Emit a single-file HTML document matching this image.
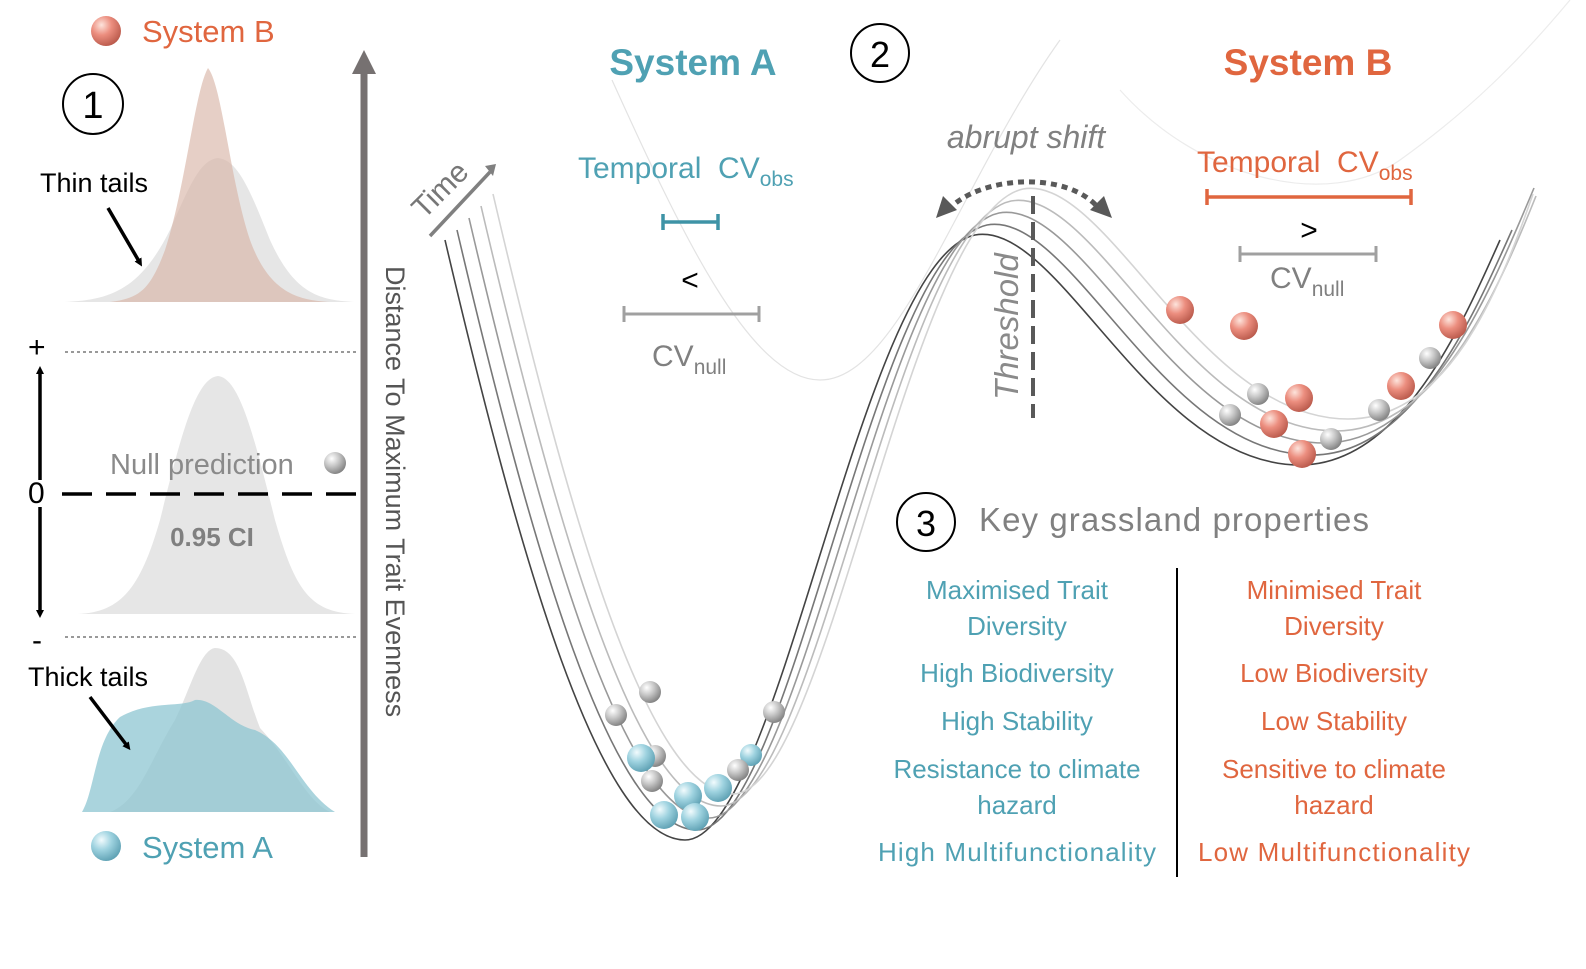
<!DOCTYPE html>
<html><head><meta charset="utf-8"><style>
html,body{margin:0;padding:0;background:#fff;}
svg{display:block;font-family:"Liberation Sans",sans-serif;}
</style></head><body>
<svg width="1586" height="969" viewBox="0 0 1586 969" xmlns="http://www.w3.org/2000/svg">
<defs>
<radialGradient id="gB" cx="0.35" cy="0.3" r="0.75"><stop offset="0" stop-color="#fde4dc"/><stop offset="0.45" stop-color="#ec8e7f"/><stop offset="1" stop-color="#b8584a"/></radialGradient>
<radialGradient id="gA" cx="0.35" cy="0.3" r="0.75"><stop offset="0" stop-color="#f2fbfd"/><stop offset="0.45" stop-color="#9fd3e0"/><stop offset="1" stop-color="#5c9fb2"/></radialGradient>
<radialGradient id="gN" cx="0.35" cy="0.3" r="0.75"><stop offset="0" stop-color="#ffffff"/><stop offset="0.45" stop-color="#c8c8c8"/><stop offset="1" stop-color="#7e7e7e"/></radialGradient>
<marker id="ah" markerWidth="8" markerHeight="8" refX="4" refY="4" orient="auto" markerUnits="userSpaceOnUse"><path d="M0,0 L8,4 L0,8z" fill="#000"/></marker>
</defs>

<!-- Left panel -->
<circle cx="106" cy="31" r="15" fill="url(#gB)"/>
<text x="142" y="42" font-size="31" fill="#e0663f">System B</text>
<circle cx="93" cy="104" r="30" fill="none" stroke="#000" stroke-width="2"/>
<text x="93" y="118" font-size="38" text-anchor="middle">1</text>

<path d="M65,302 C110,300 140,290 170,230 C190,185 200,160 218,158 C238,160 250,190 270,240 C295,295 320,300 355,302Z" fill="#e6e6e6"/>
<path d="M110,302 C140,298 150,290 165,250 C185,190 195,90 208,68 C222,85 230,180 250,240 C270,295 300,300 330,302Z" fill="#d9b5a8" opacity="0.65"/>
<text x="40" y="192" font-size="27">Thin tails</text>
<line x1="108" y1="208" x2="140" y2="263" stroke="#000" stroke-width="3.5" marker-end="url(#ah)"/>

<text x="28" y="357" font-size="30">+</text>
<line x1="40" y1="480" x2="40" y2="370" stroke="#000" stroke-width="3.5" marker-end="url(#ah)"/>
<line x1="65" y1="352" x2="358" y2="352" stroke="#333" stroke-width="1" stroke-dasharray="3,3"/>
<path d="M78,614 C120,612 140,590 160,520 C180,440 195,378 218,376 C240,378 255,440 275,520 C295,590 310,612 355,614Z" fill="#e6e6e6"/>
<text x="110" y="474" font-size="29" fill="#8a8a8a">Null prediction</text>
<circle cx="335" cy="463" r="11" fill="url(#gN)"/>
<text x="28" y="503" font-size="30">0</text>
<line x1="62" y1="494" x2="358" y2="494" stroke="#000" stroke-width="3.5" stroke-dasharray="30,14"/>
<text x="212" y="546" font-size="26" font-weight="bold" fill="#808080" text-anchor="middle">0.95 CI</text>
<line x1="40" y1="507" x2="40" y2="614" stroke="#000" stroke-width="3.5" marker-end="url(#ah)"/>
<text x="32" y="650" font-size="30">-</text>
<line x1="65" y1="637" x2="358" y2="637" stroke="#333" stroke-width="1" stroke-dasharray="3,3"/>

<path d="M110,812 C140,800 150,760 175,720 C190,690 200,650 215,648 C240,648 245,690 260,728 C290,760 305,800 330,812Z" fill="#e3e3e3"/>
<path d="M82,812 C95,790 95,740 120,717 C150,700 180,708 195,700 C215,698 230,725 255,730 C290,745 300,790 335,812Z" fill="#8ec6d2" opacity="0.75"/>
<text x="28" y="686" font-size="27">Thick tails</text>
<line x1="90" y1="697" x2="128" y2="747" stroke="#000" stroke-width="3.5" marker-end="url(#ah)"/>
<circle cx="106" cy="846" r="15" fill="url(#gA)"/>
<text x="142" y="858" font-size="31" fill="#4fa1b3">System A</text>

<line x1="364" y1="72" x2="364" y2="857" stroke="#767171" stroke-width="7"/>
<path d="M352,74 L364,50 L376,74Z" fill="#767171"/>
<text transform="translate(386,266) rotate(90)" font-size="27" fill="#555">Distance To Maximum Trait Evenness</text>

<!-- faint background curves -->
<path d="M612,80 C680,230 750,380 820,380 C900,380 960,180 1060,40" fill="none" stroke="#e3e3e3" stroke-width="1.2"/>
<path d="M1120,90 C1200,180 1330,210 1400,160 C1470,110 1520,60 1570,0" fill="none" stroke="#ececec" stroke-width="1.2"/>

<g fill="none" stroke-width="1.6">
<path d="M445,240 C520,560 600,840 685,840 C780,840 860,260 975,235 C1060,220 1150,465 1300,465 C1400,465 1460,330 1500,240" stroke="#444"/>
<path transform="translate(12,-10)" d="M445,240 C520,560 600,840 685,840 C780,840 860,260 975,235 C1060,220 1150,465 1300,465 C1400,465 1460,330 1500,240" stroke="#777"/>
<path transform="translate(24,-22)" d="M445,240 C520,560 600,840 685,840 C780,840 860,260 975,235 C1060,220 1150,465 1300,465 C1400,465 1460,330 1510,210" stroke="#999"/>
<path transform="translate(36,-34)" d="M445,240 C520,560 600,840 685,840 C780,840 860,260 975,235 C1060,220 1150,465 1300,465 C1400,465 1460,330 1500,230" stroke="#bbb"/>
<path transform="translate(48,-46)" d="M445,240 C520,560 600,840 685,840 C780,840 860,260 975,235 C1060,220 1150,465 1300,465 C1400,465 1450,340 1485,240" stroke="#d4d4d4"/>
</g>

<line x1="430" y1="236" x2="490" y2="172" stroke="#808080" stroke-width="3.5"/>
<path d="M485,166 L496,164 L493,176Z" fill="#808080"/>
<text transform="translate(424,220) rotate(-45)" font-size="30" fill="#777">Time</text>

<text x="693" y="75" font-size="37" font-weight="bold" fill="#4fa1b3" text-anchor="middle">System A</text>
<circle cx="880" cy="53" r="29" fill="none" stroke="#000" stroke-width="2"/>
<text x="880" y="67" font-size="36" text-anchor="middle">2</text>
<text x="1308" y="75" font-size="37" font-weight="bold" fill="#e0663f" text-anchor="middle">System B</text>

<text x="578" y="178" font-size="30" fill="#4fa1b3">Temporal&#160;&#160;CV<tspan font-size="21" dy="8">obs</tspan></text>
<g stroke="#3e93a6" stroke-width="3.5"><line x1="663" y1="222" x2="718" y2="222"/><line x1="663" y1="214" x2="663" y2="230"/><line x1="718" y1="214" x2="718" y2="230"/></g>
<text x="690" y="290" font-size="30" text-anchor="middle">&lt;</text>
<g stroke="#a0a0a0" stroke-width="3"><line x1="624" y1="314" x2="759" y2="314"/><line x1="624" y1="306" x2="624" y2="322"/><line x1="759" y1="306" x2="759" y2="322"/></g>
<text x="652" y="366" font-size="30" fill="#808080">CV<tspan font-size="21" dy="8">null</tspan></text>

<text x="1026" y="148" font-size="32" font-style="italic" fill="#808080" text-anchor="middle">abrupt shift</text>
<path d="M948,210 C980,175 1070,170 1100,210" fill="none" stroke="#595959" stroke-width="5" stroke-dasharray="6,5"/>
<path d="M936,218 L943,196 L957,210Z" fill="#595959"/>
<path d="M1112,218 L1090,210 L1104,196Z" fill="#595959"/>
<line x1="1033" y1="196" x2="1033" y2="418" stroke="#595959" stroke-width="4" stroke-dasharray="18,8"/>
<text transform="translate(1018,400) rotate(-90)" font-size="33" font-style="italic" fill="#8a8a8a">Threshold</text>

<text x="1197" y="172" font-size="30" fill="#e0663f">Temporal&#160;&#160;CV<tspan font-size="21" dy="8">obs</tspan></text>
<g stroke="#e0663f" stroke-width="3.5"><line x1="1207" y1="197" x2="1411" y2="197"/><line x1="1207" y1="189" x2="1207" y2="205"/><line x1="1411" y1="189" x2="1411" y2="205"/></g>
<text x="1309" y="240" font-size="30" text-anchor="middle">&gt;</text>
<g stroke="#a0a0a0" stroke-width="3"><line x1="1240" y1="254" x2="1376" y2="254"/><line x1="1240" y1="246" x2="1240" y2="262"/><line x1="1376" y1="246" x2="1376" y2="262"/></g>
<text x="1270" y="288" font-size="30" fill="#808080">CV<tspan font-size="21" dy="8">null</tspan></text>

<g>
<circle cx="1180" cy="310" r="14" fill="url(#gB)"/>
<circle cx="1244" cy="326" r="14" fill="url(#gB)"/>
<circle cx="1453" cy="325" r="14" fill="url(#gB)"/>
<circle cx="1430" cy="358" r="11" fill="url(#gN)"/>
<circle cx="1401" cy="386" r="14" fill="url(#gB)"/>
<circle cx="1258" cy="394" r="11" fill="url(#gN)"/>
<circle cx="1299" cy="398" r="14" fill="url(#gB)"/>
<circle cx="1230" cy="415" r="11" fill="url(#gN)"/>
<circle cx="1379" cy="410" r="11" fill="url(#gN)"/>
<circle cx="1274" cy="424" r="14" fill="url(#gB)"/>
<circle cx="1331" cy="439" r="11" fill="url(#gN)"/>
<circle cx="1302" cy="454" r="14" fill="url(#gB)"/>
</g>
<g>
<circle cx="650" cy="692" r="11" fill="url(#gN)"/>
<circle cx="616" cy="715" r="11" fill="url(#gN)"/>
<circle cx="774" cy="712" r="11" fill="url(#gN)"/>
<circle cx="655" cy="756" r="11" fill="url(#gN)"/>
<circle cx="641" cy="758" r="14" fill="url(#gA)"/>
<circle cx="751" cy="755" r="11" fill="url(#gA)"/>
<circle cx="738" cy="770" r="11" fill="url(#gN)"/>
<circle cx="652" cy="781" r="11" fill="url(#gN)"/>
<circle cx="718" cy="788" r="14" fill="url(#gA)"/>
<circle cx="688" cy="796" r="14" fill="url(#gA)"/>
<circle cx="664" cy="815" r="14" fill="url(#gA)"/>
<circle cx="695" cy="817" r="14" fill="url(#gA)"/>
</g>

<circle cx="926" cy="522" r="29" fill="none" stroke="#000" stroke-width="2"/>
<text x="926" y="536" font-size="36" text-anchor="middle">3</text>
<text x="979" y="531" font-size="33" fill="#808080" textLength="390">Key grassland properties</text>
<line x1="1177" y1="568" x2="1177" y2="877" stroke="#000" stroke-width="2"/>
<g font-size="26" fill="#4fa1b3" text-anchor="middle">
<text x="1017" y="599">Maximised Trait</text>
<text x="1017" y="635">Diversity</text>
<text x="1017" y="682">High Biodiversity</text>
<text x="1017" y="730">High Stability</text>
<text x="1017" y="778">Resistance to climate</text>
<text x="1017" y="814">hazard</text>
<text x="1017" y="861" textLength="278">High Multifunctionality</text>
</g>
<g font-size="26" fill="#e0663f" text-anchor="middle">
<text x="1334" y="599">Minimised Trait</text>
<text x="1334" y="635">Diversity</text>
<text x="1334" y="682">Low Biodiversity</text>
<text x="1334" y="730">Low Stability</text>
<text x="1334" y="778">Sensitive to climate</text>
<text x="1334" y="814">hazard</text>
<text x="1334" y="861" textLength="272">Low Multifunctionality</text>
</g>
</svg>
</body></html>
